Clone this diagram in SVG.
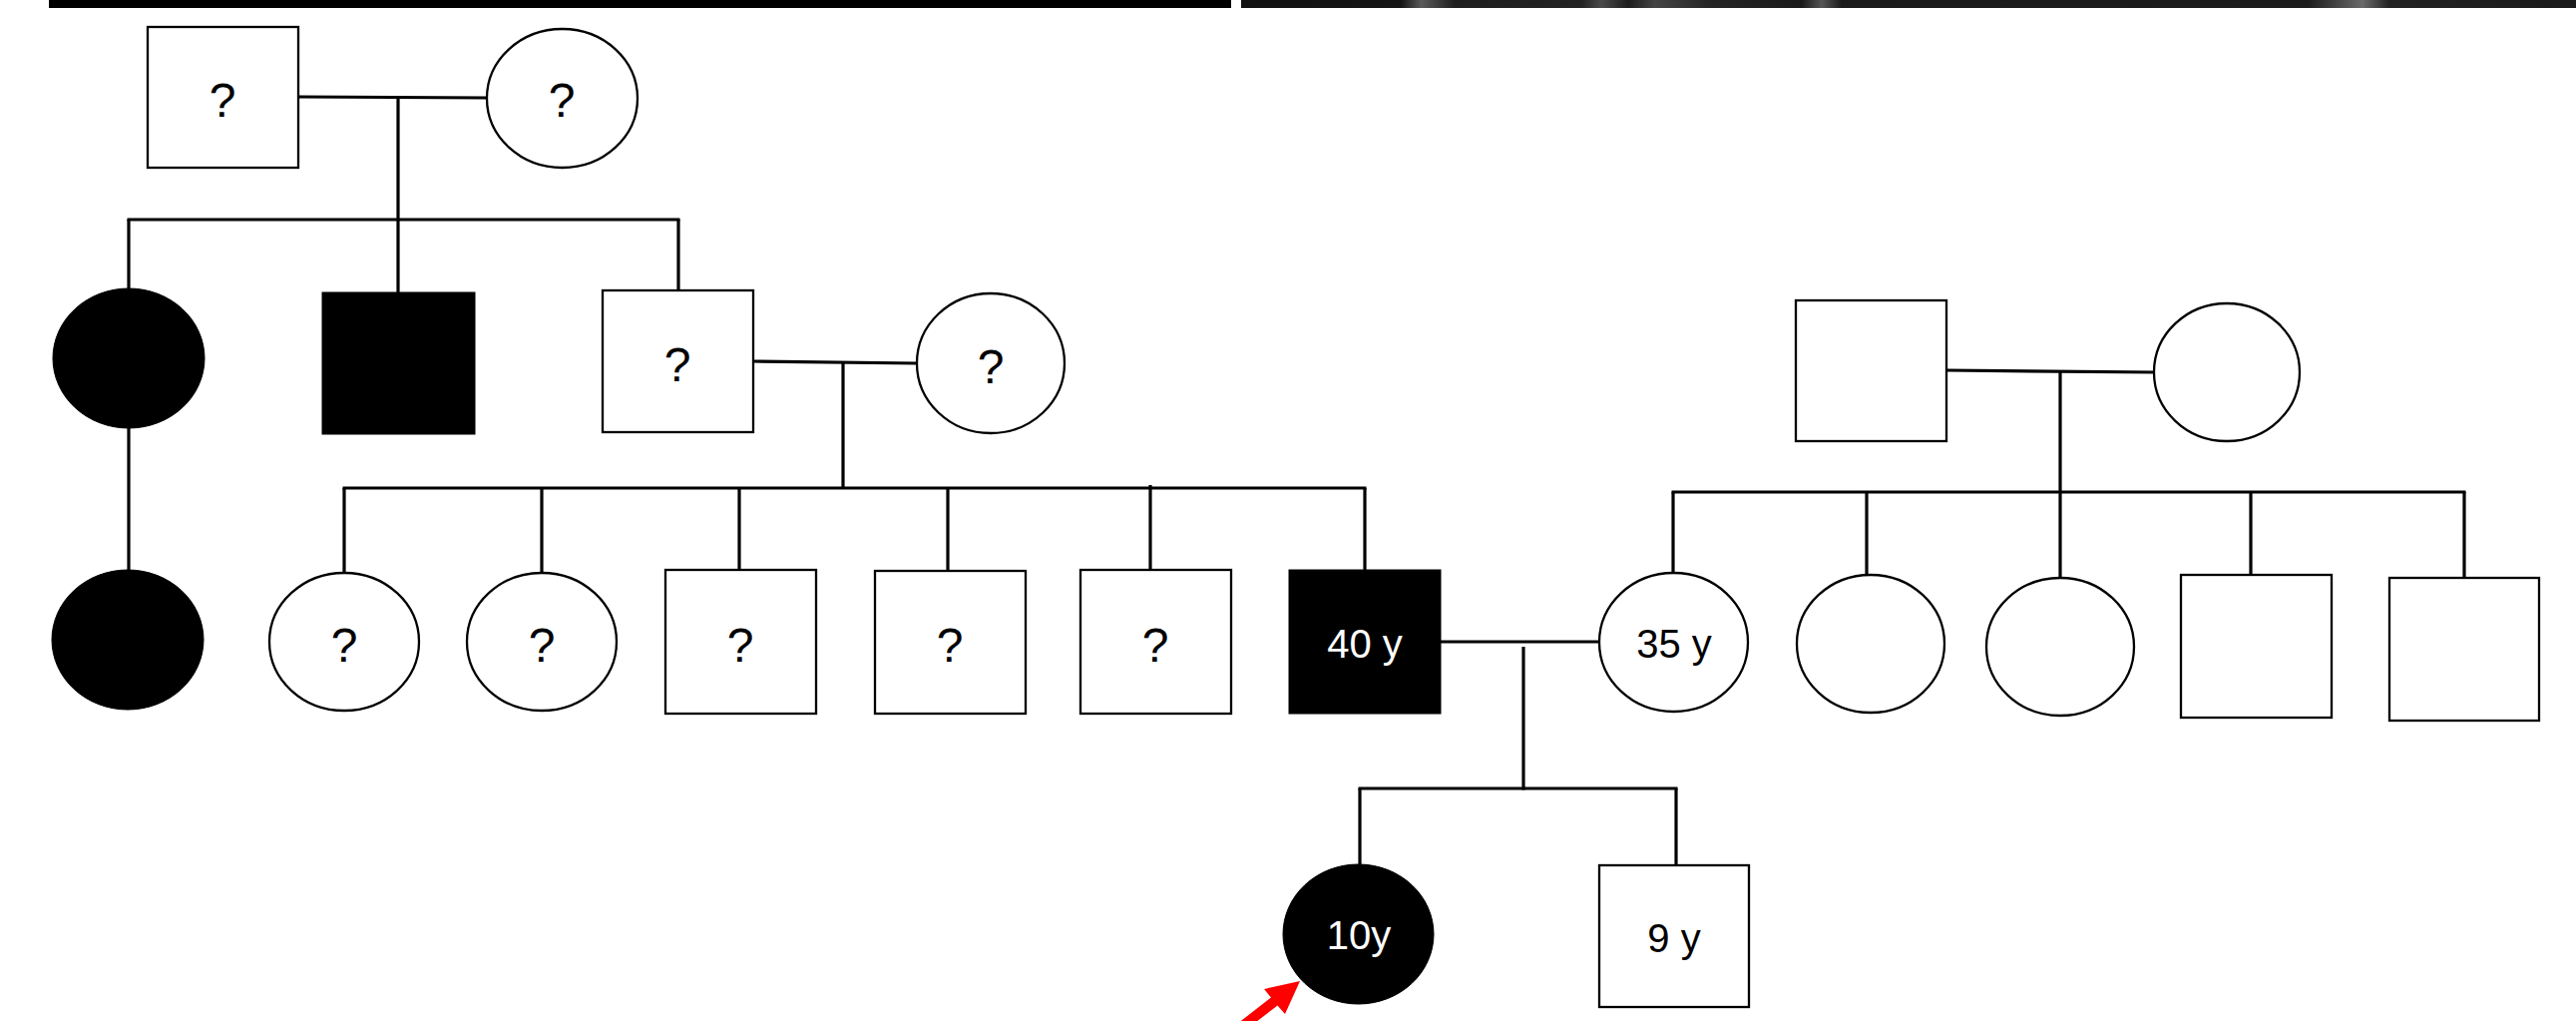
<svg xmlns="http://www.w3.org/2000/svg" width="2582" height="1023" viewBox="0 0 2582 1023">
<style>
.m{fill:#fff;stroke:#000;stroke-width:2.3}
.a{fill:#000;stroke:#000;stroke-width:1}
.t{font-family:"Liberation Sans",Arial,sans-serif;font-size:48px;fill:#000;text-anchor:middle}
.g{font-family:"Liberation Sans",Arial,sans-serif;font-size:40px;text-anchor:middle}
.c line{stroke:#000;stroke-width:3.2;stroke-linecap:butt}
</style>
<defs>
<linearGradient id="band" x1="0" y1="0" x2="1" y2="0">
<stop offset="0" stop-color="#111"/>
<stop offset="0.12" stop-color="#151515"/>
<stop offset="0.135" stop-color="#5a5a5a"/>
<stop offset="0.16" stop-color="#1e1e1e"/>
<stop offset="0.255" stop-color="#222"/>
<stop offset="0.27" stop-color="#4a4a4a"/>
<stop offset="0.29" stop-color="#1c1c1c"/>
<stop offset="0.31" stop-color="#444"/>
<stop offset="0.35" stop-color="#252525"/>
<stop offset="0.42" stop-color="#1a1a1a"/>
<stop offset="0.435" stop-color="#555"/>
<stop offset="0.45" stop-color="#1a1a1a"/>
<stop offset="0.8" stop-color="#1c1c1c"/>
<stop offset="0.84" stop-color="#6a6a6a"/>
<stop offset="0.86" stop-color="#222"/>
<stop offset="1" stop-color="#1a1a1a"/>
</linearGradient>
</defs>
<rect x="49" y="0" width="1185" height="8" fill="#000"/>
<rect x="1244" y="0" width="1338" height="8" fill="url(#band)"/>

<g id="connectors" class="c">
<line x1="299" y1="97" x2="488" y2="98"/>
<line x1="399" y1="97" x2="399" y2="220"/>
<line x1="127.5" y1="220" x2="681.5" y2="220"/>
<line x1="129" y1="220" x2="129" y2="289"/>
<line x1="399" y1="220" x2="399" y2="293"/>
<line x1="680" y1="220" x2="680" y2="291"/>
<line x1="129" y1="429" x2="129" y2="572"/>
<line x1="755" y1="362" x2="919" y2="364"/>
<line x1="845" y1="363" x2="845" y2="489"/>
<line x1="343.5" y1="489" x2="1369.5" y2="489"/>
<line x1="345" y1="489" x2="345" y2="574"/>
<line x1="543" y1="489" x2="543" y2="574"/>
<line x1="741" y1="489" x2="741" y2="571"/>
<line x1="950" y1="489" x2="950" y2="575"/>
<line x1="1153" y1="486" x2="1153" y2="571"/>
<line x1="1368" y1="489" x2="1368" y2="571"/>
<line x1="1444" y1="643" x2="1603" y2="643"/>
<line x1="1527" y1="648" x2="1527" y2="791.5"/>
<line x1="1361.5" y1="790" x2="1681.5" y2="790"/>
<line x1="1363" y1="790" x2="1363" y2="866"/>
<line x1="1680" y1="790" x2="1680" y2="867"/>
<line x1="1951" y1="371" x2="2159" y2="373"/>
<line x1="2065" y1="373" x2="2065" y2="493"/>
<line x1="1675.5" y1="493" x2="2471.5" y2="493"/>
<line x1="1677" y1="493" x2="1677" y2="574"/>
<line x1="1871" y1="493" x2="1871" y2="576"/>
<line x1="2065" y1="493" x2="2065" y2="579"/>
<line x1="2256" y1="493" x2="2256" y2="576"/>
<line x1="2470" y1="493" x2="2470" y2="579"/>
</g>

<g id="I-1"><rect class="m" x="148" y="27" width="151" height="141"/><text class="t" x="223" y="117">?</text></g>
<g id="I-2"><ellipse class="m" cx="563.5" cy="98.5" rx="75.5" ry="69.5"/><text class="t" x="563" y="117">?</text></g>

<g id="II-1"><ellipse class="a" cx="129" cy="359" rx="76" ry="70"/></g>
<g id="II-2"><rect class="a" x="323" y="293" width="153" height="142"/></g>
<g id="II-3"><rect class="m" x="604" y="291" width="151" height="142"/><text class="t" x="679" y="382">?</text></g>
<g id="II-4"><ellipse class="m" cx="993" cy="364" rx="74" ry="70"/><text class="t" x="993" y="384">?</text></g>

<g id="III-1"><ellipse class="a" cx="128" cy="641" rx="76" ry="70"/></g>
<g id="III-2"><ellipse class="m" cx="345" cy="643" rx="75" ry="69"/><text class="t" x="345" y="663">?</text></g>
<g id="III-3"><ellipse class="m" cx="543" cy="643" rx="75" ry="69"/><text class="t" x="543" y="663">?</text></g>
<g id="III-4"><rect class="m" x="667" y="571" width="151" height="144"/><text class="t" x="742" y="663">?</text></g>
<g id="III-5"><rect class="m" x="877" y="572" width="151" height="143"/><text class="t" x="952" y="663">?</text></g>
<g id="III-6"><rect class="m" x="1083" y="571" width="151" height="144"/><text class="t" x="1158" y="663">?</text></g>
<g id="III-7"><rect class="a" x="1292" y="571" width="152" height="144"/><text class="g" x="1368" y="659" fill="#fff">40 y</text></g>
<g id="III-8"><ellipse class="m" cx="1677.5" cy="643.5" rx="74.5" ry="69.5"/><text class="g" x="1678" y="659" fill="#000">35 y</text></g>

<g id="R-1"><rect class="m" x="1800" y="301" width="151" height="141"/></g>
<g id="R-2"><ellipse class="m" cx="2232" cy="373" rx="73" ry="69"/></g>
<g id="R-3"><ellipse class="m" cx="1875" cy="645" rx="74" ry="69"/></g>
<g id="R-4"><ellipse class="m" cx="2065" cy="648" rx="74" ry="69"/></g>
<g id="R-5"><rect class="m" x="2186" y="576" width="151" height="143"/></g>
<g id="R-6"><rect class="m" x="2395" y="579" width="150" height="143"/></g>

<g id="IV-1"><ellipse class="a" cx="1361.5" cy="936" rx="75.5" ry="70"/><text class="g" x="1362" y="951" fill="#fff">10y</text></g>
<g id="IV-2"><rect class="m" x="1603" y="867" width="150" height="142"/><text class="g" x="1678" y="954" fill="#000">9 y</text></g>

<g id="proband-arrow"><polygon fill="#ff0000" points="1303,983 1267,991 1274,999.5 1227,1036 1233,1044 1280.5,1007.5 1288,1016"/></g>
</svg>
